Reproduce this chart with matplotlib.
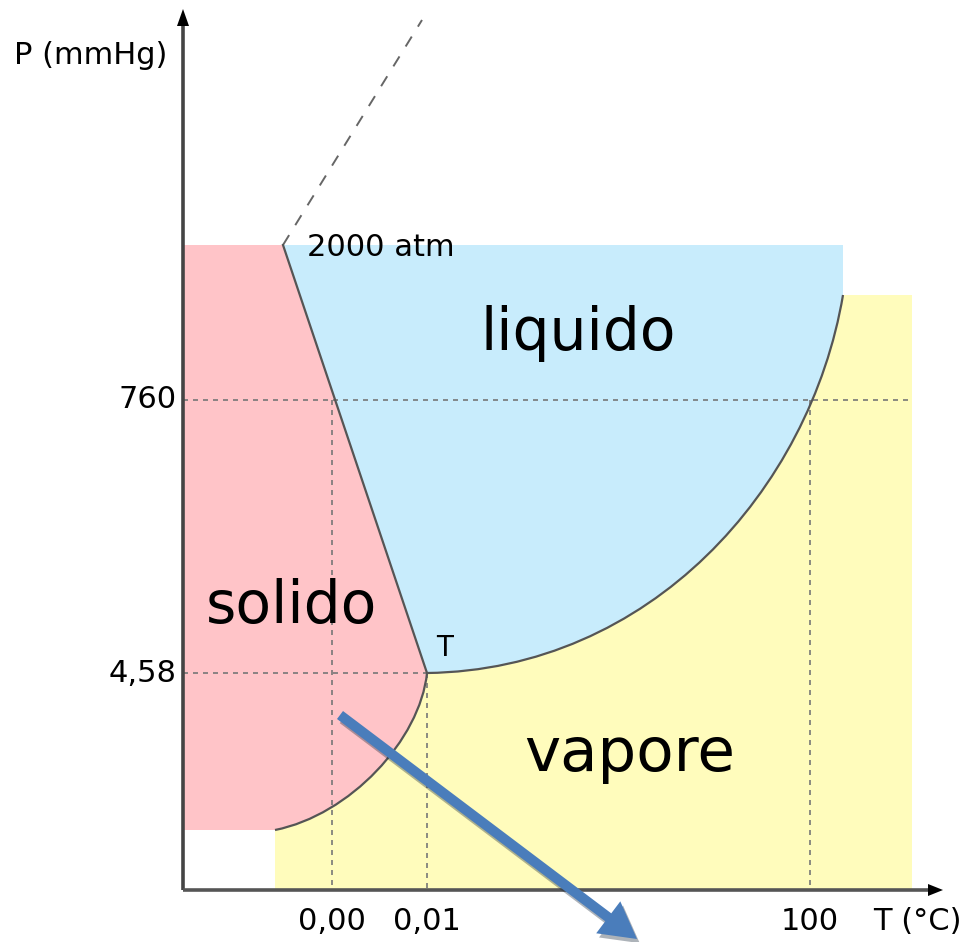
import matplotlib.pyplot as plt
from matplotlib.path import Path
from matplotlib.patches import PathPatch, FancyArrow, Polygon
import matplotlib.patheffects as pe

# schematic coordinates of the water phase diagram (y grows downwards)
triple = (427, 673)          # triple point T
melt_top = (283, 245)        # top of the solid/liquid line (2000 atm)
melt_ext = (422, 20)         # dashed continuation of the melting line
vap_ctrl = [(650, 670), (810, 490)]
vap_end = (843, 295)
sub_ctrl = [(420, 740), (350, 815)]
sub_end = (275, 830)
top_p = 245                  # upper pressure limit of solid/liquid area
vap_right = 912              # right limit of vapour area
x_axis_y = 890
y_axis_x = 183

t_ticks = [332, 427, 810]
t_labels = ['0,00', '0,01', '100']
p_ticks = [400, 673]
p_labels = ['760', '4,58']

pink = '#ffc4c8'
blue = '#c8ecfc'
yellow = '#fffcbc'
edge = '#555555'

fig = plt.figure(figsize=(9.69, 9.42), dpi=100)
ax = fig.add_axes([0, 0, 1, 1])
ax.set_xlim(0, 969)
ax.set_ylim(942, 0)
ax.axis('off')

C4 = [Path.CURVE4] * 3

# solid region
solid = Path(
    [(y_axis_x, top_p), melt_top, triple, *sub_ctrl, sub_end, (y_axis_x, sub_end[1]), (0, 0)],
    [Path.MOVETO, Path.LINETO, Path.LINETO] + C4 + [Path.LINETO, Path.CLOSEPOLY])
ax.add_patch(PathPatch(solid, fc=pink, ec='none', zorder=1))

# liquid region
liquid = Path(
    [melt_top, (vap_end[0], top_p), vap_end, vap_ctrl[1], vap_ctrl[0], triple, (0, 0)],
    [Path.MOVETO, Path.LINETO, Path.LINETO] + C4 + [Path.CLOSEPOLY])
ax.add_patch(PathPatch(liquid, fc=blue, ec='none', zorder=1))

# vapour region
vapour = Path(
    [(sub_end[0], x_axis_y), sub_end, sub_ctrl[1], sub_ctrl[0], triple, *vap_ctrl, vap_end,
     (vap_right, vap_end[1]), (vap_right, x_axis_y), (0, 0)],
    [Path.MOVETO, Path.LINETO] + C4 + C4 + [Path.LINETO, Path.LINETO, Path.CLOSEPOLY])
ax.add_patch(PathPatch(vapour, fc=yellow, ec='none', zorder=1))

# dashed guide lines
dash = dict(color='#777777', lw=1.2, ls=(0, (3, 3)), zorder=2)
ax.plot([y_axis_x, 910], [p_ticks[0]] * 2, **dash)
ax.plot([y_axis_x, triple[0]], [p_ticks[1]] * 2, **dash)
ax.plot([t_ticks[0]] * 2, [p_ticks[0], x_axis_y], **dash)
ax.plot([t_ticks[1]] * 2, [triple[1], x_axis_y], **dash)
ax.plot([t_ticks[2]] * 2, [p_ticks[0], x_axis_y], **dash)
ax.plot([melt_top[0], melt_ext[0]], [melt_top[1], melt_ext[1]],
        color='#666666', lw=1.4, ls=(0, (6, 6)), zorder=2)

# phase boundaries
ax.plot([melt_top[0], triple[0]], [melt_top[1], triple[1]], color=edge, lw=1.6, zorder=3)
ax.add_patch(PathPatch(Path([triple, *vap_ctrl, vap_end], [Path.MOVETO] + C4),
                       fc='none', ec=edge, lw=1.6, zorder=3))
ax.add_patch(PathPatch(Path([triple, *sub_ctrl, sub_end], [Path.MOVETO] + C4),
                       fc='none', ec=edge, lw=1.6, zorder=3))

# axes with arrow heads
ax.plot([y_axis_x, y_axis_x], [x_axis_y, 20], color='#444444', lw=2.6, zorder=4,
        solid_capstyle='butt')
ax.plot([y_axis_x, 932], [x_axis_y, x_axis_y], color='#555555', lw=2.6, zorder=4,
        solid_capstyle='butt')
ax.add_patch(Polygon([(y_axis_x - 6, 26), (y_axis_x + 6, 26), (y_axis_x, 9)],
                     fc='black', ec='none', zorder=5))
ax.add_patch(Polygon([(928, x_axis_y - 6), (928, x_axis_y + 6), (943, x_axis_y)],
                     fc='black', ec='none', zorder=5))

# tick labels
for x, lab in zip(t_ticks, t_labels):
    ax.text(x, 922, lab, fontsize=22, ha='center', va='center', zorder=6)
for y, lab in zip(p_ticks, p_labels):
    ax.text(177, y, lab, fontsize=22, ha='right', va='center', zorder=6)
ax.text(14, 55, 'P (mmHg)', fontsize=22, ha='left', va='center', zorder=6)
ax.text(873, 922, 'T (°C)', fontsize=22, ha='left', va='center', zorder=6)

# annotations
ax.text(307, 248, '2000 atm', fontsize=22, ha='left', va='center', zorder=6)
ax.text(445, 648, 'T', fontsize=20, ha='center', va='center', zorder=6)
ax.text(578, 333, 'liquido', fontsize=42, ha='center', va='center', zorder=6)
ax.text(292, 606, 'solido', fontsize=42, ha='center', va='center', zorder=6)
ax.text(630, 755, 'vapore', fontsize=44, ha='center', va='center', zorder=6)

# blue pointer arrow
arrow = FancyArrow(340, 715, 297, 224, width=10, head_width=40, head_length=36,
                   length_includes_head=True, fc='#4a7dbb', ec='none', zorder=7)
arrow.set_path_effects([pe.SimplePatchShadow(offset=(2, -3), alpha=0.35), pe.Normal()])
ax.add_patch(arrow)

fig.savefig('out.png', dpi=100)
